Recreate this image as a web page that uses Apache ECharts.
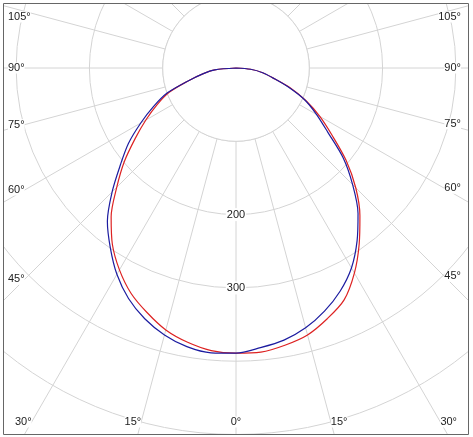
<!DOCTYPE html>
<html><head><meta charset="utf-8">
<script src="https://cdn.jsdelivr.net/npm/echarts@6/dist/echarts.min.js"></script>
<style>html,body{margin:0;padding:0;background:#fff}#c{width:473px;height:437px}</style>
</head><body><div id="c"></div>
<script>
// angle measured from straight down (0°), negative = left, positive = right
const angles = [-90,-85,-80,-75,-70,-65,-60,-55,-50,-45,-40,-35,-30,-25,-20,-15,-10,-5,0,5,10,15,20,25,30,35,40,45,50,55,60,65,70,75,80,85,90];
const redValues  = [0,29,46,67,97,119,142,168,199,230,265,294,318,339,355,370,380,387,389,389,384,377,364,349,323,293,263,231,196,160,132,105,78,52,37,20,0];
const blueValues = [0,29,46,67,100,124,150,179,206,239,273,299,325,347,364,377,386,390,389,383,377,367,353,336,315,288,259,225,191,153,127,104,76,52,37,20,0];
const angleTicks = [-105,-90,-75,-60,-45,-30,-15,0,15,30,45,60,75,90,105];
const radiusTicks = [200,300];
const innerValue = 100;

const CX = 236, CY = 68;
const FONT = '11px "Liberation Sans", Arial, sans-serif';
const chart = echarts.init(document.getElementById('c'), null, {renderer:'canvas'});
const gridColor = '#d4d4d4';
chart.setOption({
  animation:false,
  polar:{center:[CX,CY], radius:[0, 513.1]},
  angleAxis:{type:'value', min:-180, max:180, interval:15, startAngle:90, clockwise:false, z:0,
    axisLine:{show:false}, axisTick:{show:false}, axisLabel:{show:false},
    splitLine:{show:true, lineStyle:{color:gridColor, width:1}}},
  radiusAxis:{type:'value', min:0, max:700, interval:100, z:0,
    axisLine:{show:false}, axisTick:{show:false}, axisLabel:{show:false},
    splitLine:{show:true, lineStyle:{color:gridColor, width:1}}},
  series:[
    {type:'line', coordinateSystem:'polar', clip:false, showSymbol:false, smooth:0.3, z:5,
     lineStyle:{color:'#dd2222', width:1.2}, data: angles.map((a,i)=>[redValues[i], a])},
    {type:'line', coordinateSystem:'polar', clip:false, showSymbol:false, smooth:0.3, z:6,
     lineStyle:{color:'#1c1ca0', width:1.2}, data: angles.map((a,i)=>[blueValues[i], a])}
  ]
});

const ctx = document.createElement('canvas').getContext('2d');
ctx.font = FONT;
const L = 8, R = 461, B = 422, T = 17;
const graphics = [];
// hub: blank the inner disc (radial lines start at the first ring)
const c0 = chart.convertToPixel({seriesIndex:0}, [0, 0]) || [CX, CY];
const ring = chart.convertToPixel({seriesIndex:0}, [innerValue, 0]);
const r0 = ring ? Math.hypot(ring[0]-c0[0], ring[1]-c0[1]) : 73.3;
graphics.push({type:'circle', z:1, shape:{cx:c0[0], cy:c0[1], r:r0}, style:{fill:'#fff', stroke:gridColor, lineWidth:1}});
// white margins outside the frame
[[0,0,473,3],[0,435,473,2],[0,0,3,437],[469,0,4,437]].forEach(r=>{
  graphics.push({type:'rect', z:99, shape:{x:r[0],y:r[1],width:r[2],height:r[3]}, style:{fill:'#fff'}});
});
graphics.push({type:'rect', z:101, shape:{x:3.5,y:3.5,width:465,height:431}, style:{fill:'none', stroke:'#666', lineWidth:1}});

angleTicks.forEach(a=>{
  const text = Math.abs(a)+'°';
  const w = ctx.measureText(text).width;
  const rad = a*Math.PI/180, dx = Math.sin(rad), dy = Math.cos(rad);
  let x, y, align;
  let side = false;
  if (a !== 0) {
    const xe = dx < 0 ? L + w : R - w;
    const t = (xe - c0[0])/dx;
    const ys = c0[1] + t*dy;
    if (ys <= B) { side = true; y = Math.max(T, ys); x = dx < 0 ? L : R; align = dx < 0 ? 'left' : 'right'; }
  }
  if (!side) {
    y = B;
    if (a === 0) { x = c0[0]; align = 'center'; }
    else {
      const xb = c0[0] + (B - c0[1])/dy*dx;
      if (dx < 0) { if (xb - w < L) { x = L; align='left'; } else { x = xb; align='right'; } }
      else { if (xb + w > R) { x = R; align='right'; } else { x = xb; align='left'; } }
    }
  }
  graphics.push({type:'text', z:100, x:x, y:y, style:{text:text, font:FONT, fill:'#222', align:align, verticalAlign:'middle', backgroundColor:'#fff'}});
});

radiusTicks.forEach(v=>{
  let p = chart.convertToPixel({seriesIndex:0}, [v, 0]);
  if (!p) p = [CX, CY + v*0.733];
  graphics.push({type:'text', z:100, x:p[0], y:p[1], style:{text:String(v), font:FONT, fill:'#222', align:'center', verticalAlign:'middle', backgroundColor:'#fff', padding:[1,1]}});
});
chart.setOption({graphic:graphics});
</script></body></html>
